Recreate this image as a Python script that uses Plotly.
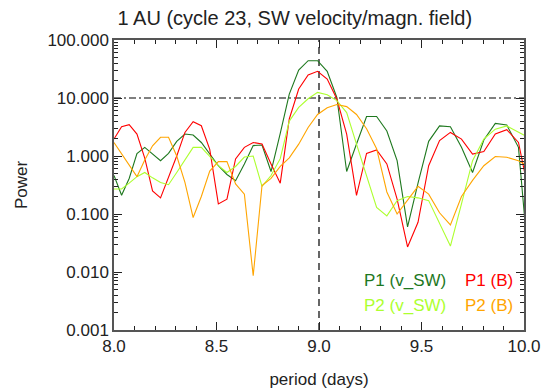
import plotly.graph_objects as go

# period grid (days)
periods = [8.000, 8.037, 8.074, 8.112, 8.150, 8.188, 8.227, 8.266, 8.306, 8.346,
           8.386, 8.426, 8.467, 8.509, 8.551, 8.593, 8.636, 8.679, 8.722, 8.766,
           8.811, 8.855, 8.901, 8.947, 8.993, 9.040, 9.087, 9.135, 9.183, 9.232,
           9.281, 9.331, 9.381, 9.432, 9.483, 9.535, 9.588, 9.641, 9.695, 9.749,
           9.804, 9.860, 9.916, 9.973, 10.030]

p1_vsw = [0.46, 0.21, 0.41, 1.1, 1.41, 1.08, 0.83, 1.11, 1.79, 2.39,
          2.30, 1.71, 1.08, 0.68, 0.48, 0.375, 0.73, 1.51, 1.55, 0.54,
          2.45, 11.7, 30.4, 44.0, 44.0, 28.8, 10.2, 0.54, 1.61, 4.8,
          4.8, 2.7, 0.83, 0.060, 0.34, 1.79, 3.3, 3.2, 1.41, 0.52,
          1.89, 3.65, 3.42, 1.41, 0.007]

p1_b = [1.96, 3.2, 3.47, 2.39, 0.92, 0.25, 0.19, 0.43, 1.0, 2.55,
        3.9, 3.33, 1.3, 0.149, 0.18, 0.89, 1.41, 1.71, 1.61, 0.73,
        0.34, 4.35, 14.3, 25.0, 28.8, 21.2, 9.6, 2.39, 0.21, 1.11,
        1.27, 0.73, 0.18, 0.027, 0.072, 0.68, 1.84, 2.55, 1.96, 1.08,
        1.19, 2.39, 2.84, 1.71, 0.18]

p2_vsw = [0.27, 0.27, 0.34, 0.44, 0.52, 0.42, 0.35, 0.32, 0.52, 0.86,
          1.41, 1.41, 0.97, 0.68, 0.52, 0.66, 0.96, 1.0, 0.30, 0.46,
          0.9, 4.0, 6.9, 9.7, 12.5, 11.4, 9.0, 5.6, 1.6, 0.46,
          0.13, 0.093, 0.17, 0.20, 0.19, 0.17, 0.071, 0.028, 0.15, 0.83,
          1.96, 2.9, 3.3, 2.6, 2.0]

p2_b = [1.71, 1.1, 0.71, 0.44, 0.85, 1.5, 2.1, 2.1, 1.0, 0.35,
        0.087, 0.2, 0.55, 0.8, 0.8, 0.33, 0.22, 0.0086, 0.31, 0.41,
        0.66, 0.93, 1.6, 3.1, 5.2, 6.8, 7.7, 7.1, 5.2, 2.95,
        1.34, 0.24, 0.10, 0.17, 0.30, 0.22, 0.105, 0.065, 0.20, 0.38,
        0.68, 0.98, 0.95, 0.83, 0.63]

ref_period = 9.0
ref_power = 10.0
x_range = [8.0, 10.0]
y_range = [0.001, 100.0]

series = [
    ("P1 (v_SW)", p1_vsw, "#1e781e"),
    ("P1 (B)", p1_b, "#ff0000"),
    ("P2 (v_SW)", p2_vsw, "#adff2f"),
    ("P2 (B)", p2_b, "#ffa500"),
]

FONT = "Liberation Sans, Arial, Helvetica, sans-serif"

fig = go.Figure()

# reference lines
fig.add_trace(go.Scatter(x=x_range, y=[ref_power, ref_power], mode="lines",
                         line=dict(color="black", width=1.2, dash="7px,3px,2px,3px"),
                         showlegend=False, hoverinfo="skip"))
fig.add_trace(go.Scatter(x=[ref_period, ref_period], y=y_range, mode="lines",
                         line=dict(color="black", width=1.2, dash="7px,5px"),
                         showlegend=False, hoverinfo="skip"))

for name, vals, col in series:
    fig.add_trace(go.Scatter(x=periods, y=vals, mode="lines", name=name,
                             line=dict(color=col, width=1.1), showlegend=False))

# legend as coloured text
leg_pos = [(0.605, 0.169), (0.851, 0.169), (0.605, 0.086), (0.851, 0.086)]
for (name, vals, col), (lx, ly) in zip(series, leg_pos):
    fig.add_annotation(x=lx, y=ly, xref="paper", yref="paper", text=name,
                       showarrow=False, xanchor="left", yanchor="middle",
                       font=dict(family=FONT, size=17, color=col))

axis_common = dict(showline=True, linecolor="#555", linewidth=1.5, mirror="allticks",
                   ticks="inside", tickcolor="#222", showgrid=False, zeroline=False,
                   automargin=False,
                   tickfont=dict(family=FONT, size=17, color="#222"))

fig.update_xaxes(range=x_range, dtick=0.5, tick0=8.0, tickformat=".1f", ticklen=8,
                 minor=dict(ticks="inside", dtick=0.1, ticklen=4, tickcolor="#222", showgrid=False),
                 title=dict(text="period (days)", font=dict(family=FONT, size=17, color="#222"), standoff=18),
                 **axis_common)
fig.update_yaxes(type="log", range=[-3, 2], dtick=1, tickformat=".3f", ticklen=8,
                 minor=dict(ticks="inside", dtick="D1", ticklen=4, tickcolor="#222", showgrid=False),
                 title=dict(text="Power", font=dict(family=FONT, size=17, color="#222"), standoff=15),
                 **axis_common)

fig.update_layout(
    width=547, height=392,
    margin=dict(l=114, r=23, t=40, b=62, autoexpand=False),
    paper_bgcolor="white", plot_bgcolor="white",
    title=dict(text="1 AU (cycle 23, SW velocity/magn. field)", x=0.539, xanchor="center",
               y=0.955, yanchor="middle", font=dict(family=FONT, size=20, color="#222")),
    showlegend=False,
)

fig.write_html("out.html")
